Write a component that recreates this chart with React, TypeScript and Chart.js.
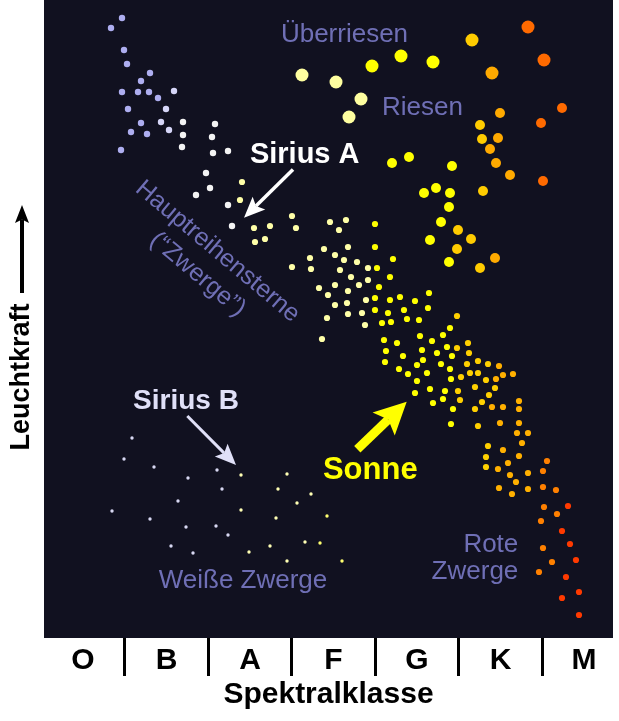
import React, { useEffect, useRef } from 'react';
import { Chart, registerables } from 'chart.js';

Chart.register(...registerables);

const FONT = "'Liberation Sans', Arial, Helvetica, sans-serif";

// Spectral classes (x axis) – tick positions in panel units
const SPECTRAL_CLASSES = ['O', 'B', 'A', 'F', 'G', 'K', 'M'];
const CLASS_POSITIONS = [39, 122.5, 206, 289.5, 373, 456.5, 540];

// Data: [spectral position, luminosity index]
const SUPERGIANTS_PALE = [[258, 563], [292, 556], [317, 539], [305, 521]];
const SUPERGIANTS_YELLOW = [[328, 572], [357, 582], [389, 576]];
const SUPERGIANTS_GOLD = [[428, 598]];
const SUPERGIANTS_AMBER = [[448, 565]];
const SUPERGIANTS_ORANGE = [[484, 611], [500, 578]];

const GIANTS_YELLOW = [[348, 475], [365, 481], [408, 472], [380, 445], [392, 450], [406, 445], [405, 431], [397, 416], [386, 398], [405, 376]];
const GIANTS_GOLD = [[436, 513], [438, 499], [439, 447], [414, 408], [427, 399], [413, 389], [436, 370]];
const GIANTS_AMBER = [[456, 525], [454, 500], [446, 489], [452, 475], [466, 463], [451, 380]];
const GIANTS_ORANGE = [[518, 530], [497, 515], [499, 457]];

const MS_BLUE = [[78, 620], [67, 610], [80, 588], [83, 574], [106, 565], [97, 557], [78, 546], [94, 546], [105, 546], [114, 540], [84, 529], [77, 488], [87, 506], [97, 515], [103, 504]];
const MS_BLUEWHITE = [[130, 547], [122, 529], [117, 516], [125, 508]];
const MS_WHITE = [[139, 516], [139, 503], [138, 491], [171, 514], [168, 501], [169, 485], [184, 487], [162, 465], [166, 450], [152, 443], [184, 433], [188, 412]];
const MS_PALE = [[198, 456], [196, 438], [210, 410], [226, 412], [211, 396], [221, 399], [248, 422], [252, 410], [286, 416], [302, 418], [295, 408], [280, 389], [291, 383], [304, 391], [266, 380], [300, 378], [313, 376], [248, 371], [267, 369], [296, 368], [324, 370], [307, 361], [324, 358], [275, 350], [291, 353], [304, 347], [315, 353], [284, 343], [291, 333], [303, 335], [322, 338], [283, 320], [304, 324], [318, 325], [321, 313], [278, 299]];
const MS_YELLOW = [[331, 414], [331, 391], [349, 379], [333, 370], [346, 361], [335, 351], [331, 340], [346, 338], [356, 341], [371, 337], [385, 345], [331, 328], [344, 325], [360, 328], [384, 330], [338, 315], [347, 316], [363, 319], [375, 318], [406, 310], [399, 303], [376, 302], [340, 298], [353, 295], [388, 297], [403, 291], [342, 287], [378, 288], [393, 285], [408, 282], [359, 282], [341, 276], [379, 278], [373, 273], [397, 274], [406, 269], [355, 269], [364, 264], [383, 265], [407, 259], [373, 257], [386, 249], [401, 247], [371, 245], [389, 235], [399, 239], [409, 229], [407, 214]];
const MS_GOLD = [[413, 322], [424, 295], [425, 285], [423, 274], [434, 277], [417, 261], [426, 265], [434, 265], [414, 247], [431, 251], [416, 238], [438, 236], [431, 229], [434, 212], [451, 250], [445, 243], [442, 258], [444, 274], [444, 192], [442, 181], [442, 171], [413, 290]];
const MS_AMBER = [[455, 272], [452, 259], [459, 263], [469, 264], [448, 231], [459, 231], [475, 237], [475, 229], [456, 215], [475, 215], [473, 205], [484, 205], [478, 195], [459, 188], [475, 182], [464, 175], [454, 169], [484, 165], [466, 163], [472, 156], [455, 150], [484, 149], [468, 144]];
const MS_ORANGE = [[503, 177], [499, 167], [499, 151], [512, 148], [500, 131], [513, 124], [497, 117], [499, 90], [508, 76], [495, 66]];
const MS_RED = [[524, 132], [518, 107], [526, 94], [532, 78], [522, 61], [535, 46], [518, 40], [535, 23]];

const WD_WHITE = [[88, 200], [80, 179], [110, 171], [144, 160], [173, 168], [178, 149], [134, 137], [68, 127], [106, 119], [142, 111], [172, 112], [184, 103], [127, 92], [149, 85]];
const WD_PALE = [[197, 163], [243, 164], [234, 149], [267, 144], [197, 128], [253, 135], [232, 120], [205, 86], [226, 92], [261, 96], [243, 77]];
const WD_YELLOW = [[283, 122], [276, 95], [298, 77]];

const PANEL_BG = '#111120';
const LAVENDER = '#6f6fb5';

const GROUPS = [
  { data: WD_WHITE, color: '#d8d8f2', r: 1.7 },
  { data: WD_PALE, color: '#ffffb4', r: 1.7 },
  { data: WD_YELLOW, color: '#ffff70', r: 1.7 },
  { data: MS_BLUE, color: '#aeaef0', r: 3.2 },
  { data: MS_BLUEWHITE, color: '#d6d6f8', r: 3.2 },
  { data: MS_WHITE, color: '#f4f4f4', r: 3.2 },
  { data: MS_PALE, color: '#ffffa8', r: 3.1 },
  { data: MS_YELLOW, color: '#ffff00', r: 3.1 },
  { data: MS_GOLD, color: '#ffd000', r: 3.1 },
  { data: MS_AMBER, color: '#ffb000', r: 3.1 },
  { data: MS_ORANGE, color: '#ff8000', r: 3.1 },
  { data: MS_RED, color: '#ff3a00', r: 3.1 },
  { data: GIANTS_YELLOW, color: '#ffff00', r: 5 },
  { data: GIANTS_GOLD, color: '#ffcc00', r: 5 },
  { data: GIANTS_AMBER, color: '#ffaa00', r: 5 },
  { data: GIANTS_ORANGE, color: '#ff6a00', r: 5 },
  { data: SUPERGIANTS_PALE, color: '#ffffa0', r: 6.5 },
  { data: SUPERGIANTS_YELLOW, color: '#ffff00', r: 6.5 },
  { data: SUPERGIANTS_GOLD, color: '#ffcc00', r: 6.5 },
  { data: SUPERGIANTS_AMBER, color: '#ffaa00', r: 6.5 },
  { data: SUPERGIANTS_ORANGE, color: '#ff6a00', r: 6.5 },
];

const TEXTS = [
  { text: 'Überriesen', x: 300.5, y: 596, size: 26, weight: 'normal', color: LAVENDER, align: 'center', rot: 0 },
  { text: 'Riesen', x: 378.5, y: 523, size: 26, weight: 'normal', color: LAVENDER, align: 'center', rot: 0 },
  { text: 'Sirius A', x: 260.7, y: 475.3, size: 29, weight: 'bold', color: '#ffffff', align: 'center', rot: 0 },
  { text: 'Sirius B', x: 142, y: 228.7, size: 28, weight: 'bold', color: '#e0e0f8', align: 'center', rot: 0 },
  { text: 'Sonne', x: 326.3, y: 158.7, size: 31, weight: 'bold', color: '#ffff00', align: 'center', rot: 0 },
  { text: 'Weiße Zwerge', x: 199, y: 49.7, size: 26, weight: 'normal', color: LAVENDER, align: 'center', rot: 0 },
  { text: 'Rote', x: 474.3, y: 85.7, size: 26, weight: 'normal', color: LAVENDER, align: 'right', rot: 0 },
  { text: 'Zwerge', x: 474.3, y: 58.7, size: 26, weight: 'normal', color: LAVENDER, align: 'right', rot: 0 },
  { text: 'Hauptreihensterne', x: 173.5, y: 386.5, size: 25, weight: 'normal', color: LAVENDER, align: 'center', rot: 40, middle: true },
  { text: '(“Zwerge”)', x: 153.5, y: 363.5, size: 25, weight: 'normal', color: LAVENDER, align: 'center', rot: 40, middle: true },
];

const ARROWS = [
  { from: [249, 468.5], to: [200, 420.2], color: '#ffffff', width: 3.5, head: 21, half: 9 },
  { from: [143.3, 222], to: [192, 173], color: '#e0e0f8', width: 3, head: 21, half: 9 },
  { from: [313.3, 188.7], to: [362.7, 236.3], color: '#ffff00', width: 9, head: 32, half: 16 },
];

function drawArrow(ctx: CanvasRenderingContext2D, x1: number, y1: number, x2: number, y2: number, a: any) {
  const ang = Math.atan2(y2 - y1, x2 - x1);
  const c = Math.cos(ang), s = Math.sin(ang);
  const bx = x2 - a.head * c, by = y2 - a.head * s;
  const nx = x2 - a.head * 0.8 * c, ny = y2 - a.head * 0.8 * s;
  ctx.strokeStyle = a.color;
  ctx.fillStyle = a.color;
  ctx.lineWidth = a.width;
  ctx.lineCap = 'butt';
  ctx.beginPath();
  ctx.moveTo(x1, y1);
  ctx.lineTo(nx, ny);
  ctx.stroke();
  ctx.beginPath();
  ctx.moveTo(x2, y2);
  ctx.lineTo(bx - a.half * s, by + a.half * c);
  ctx.lineTo(nx, ny);
  ctx.lineTo(bx + a.half * s, by - a.half * c);
  ctx.closePath();
  ctx.fill();
}

const hrdPlugin = {
  id: 'hrdAnnotations',
  beforeDraw(chart: any) {
    const { ctx, chartArea: a } = chart;
    ctx.save();
    ctx.fillStyle = PANEL_BG;
    ctx.fillRect(a.left, a.top, a.right - a.left, a.bottom - a.top);
    ctx.restore();
  },
  afterDatasetsDraw(chart: any) {
    const { ctx, scales, chartArea } = chart;
    const xs = scales.x, ys = scales.y;
    ctx.save();
    for (const a of ARROWS) {
      drawArrow(ctx, xs.getPixelForValue(a.from[0]), ys.getPixelForValue(a.from[1]), xs.getPixelForValue(a.to[0]), ys.getPixelForValue(a.to[1]), a);
    }
    for (const t of TEXTS) {
      ctx.save();
      ctx.translate(xs.getPixelForValue(t.x), ys.getPixelForValue(t.y));
      ctx.rotate((t.rot * Math.PI) / 180);
      ctx.font = `${t.weight} ${t.size}px ${FONT}`;
      ctx.fillStyle = t.color;
      ctx.textAlign = t.align;
      ctx.textBaseline = t.middle ? 'middle' : 'alphabetic';
      ctx.fillText(t.text, 0, 0);
      ctx.restore();
    }
    // Luminosity axis label with arrow
    const lx = chartArea.left - 22;
    ctx.save();
    ctx.translate(lx, ys.getPixelForValue(261));
    ctx.rotate(-Math.PI / 2);
    ctx.font = `bold 27px ${FONT}`;
    ctx.fillStyle = '#000';
    ctx.textAlign = 'center';
    ctx.textBaseline = 'middle';
    ctx.fillText('Leuchtkraft', 0, 0);
    ctx.restore();
    drawArrow(ctx, lx, ys.getPixelForValue(345), lx, ys.getPixelForValue(433), { color: '#000', width: 4, head: 18, half: 7 });
    ctx.restore();
  },
};

export default function App() {
  const ref = useRef<HTMLCanvasElement>(null);
  useEffect(() => {
    document.body.style.margin = '0';
    Chart.defaults.font.family = FONT;
    const chart = new Chart(ref.current as HTMLCanvasElement, {
      type: 'scatter',
      data: {
        datasets: GROUPS.map((g) => ({
          data: g.data.map(([x, y]) => ({ x, y })),
          backgroundColor: g.color,
          borderWidth: 0,
          pointRadius: g.r,
          pointHoverRadius: g.r,
        })),
      },
      options: {
        responsive: false,
        animation: false,
        devicePixelRatio: 1,
        events: [],
        layout: { autoPadding: false, padding: { left: 44, right: 6, top: 0, bottom: 7 } },
        plugins: { legend: { display: false }, tooltip: { enabled: false } },
        scales: {
          x: {
            type: 'linear',
            min: 0,
            max: 569,
            afterBuildTicks: (s: any) => {
              s.ticks = CLASS_POSITIONS.map((v) => ({ value: v }));
            },
            afterFit: (s: any) => {
              s.height = 76;
            },
            ticks: {
              callback: (_v: any, i: number) => SPECTRAL_CLASSES[i],
              autoSkip: false,
              maxRotation: 0,
              minRotation: 0,
              padding: -33,
              color: '#000',
              font: { size: 30, weight: 'bold' },
            },
            grid: {
              display: true,
              drawOnChartArea: false,
              drawTicks: true,
              tickLength: 38,
              offset: true,
              color: '#000',
              lineWidth: 3,
            },
            border: { display: false },
            title: {
              display: true,
              text: 'Spektralklasse',
              color: '#000',
              font: { size: 30, weight: 'bold' },
              padding: { top: 0, bottom: 1 },
            },
          },
          y: {
            type: 'linear',
            min: 0,
            max: 638,
            display: false,
          },
        },
      },
      plugins: [hrdPlugin],
    } as any);
    return () => chart.destroy();
  }, []);
  return (
    <div style={{ width: 619, height: 721 }}>
      <canvas ref={ref} width={619} height={721} style={{ display: 'block' }} />
    </div>
  );
}
